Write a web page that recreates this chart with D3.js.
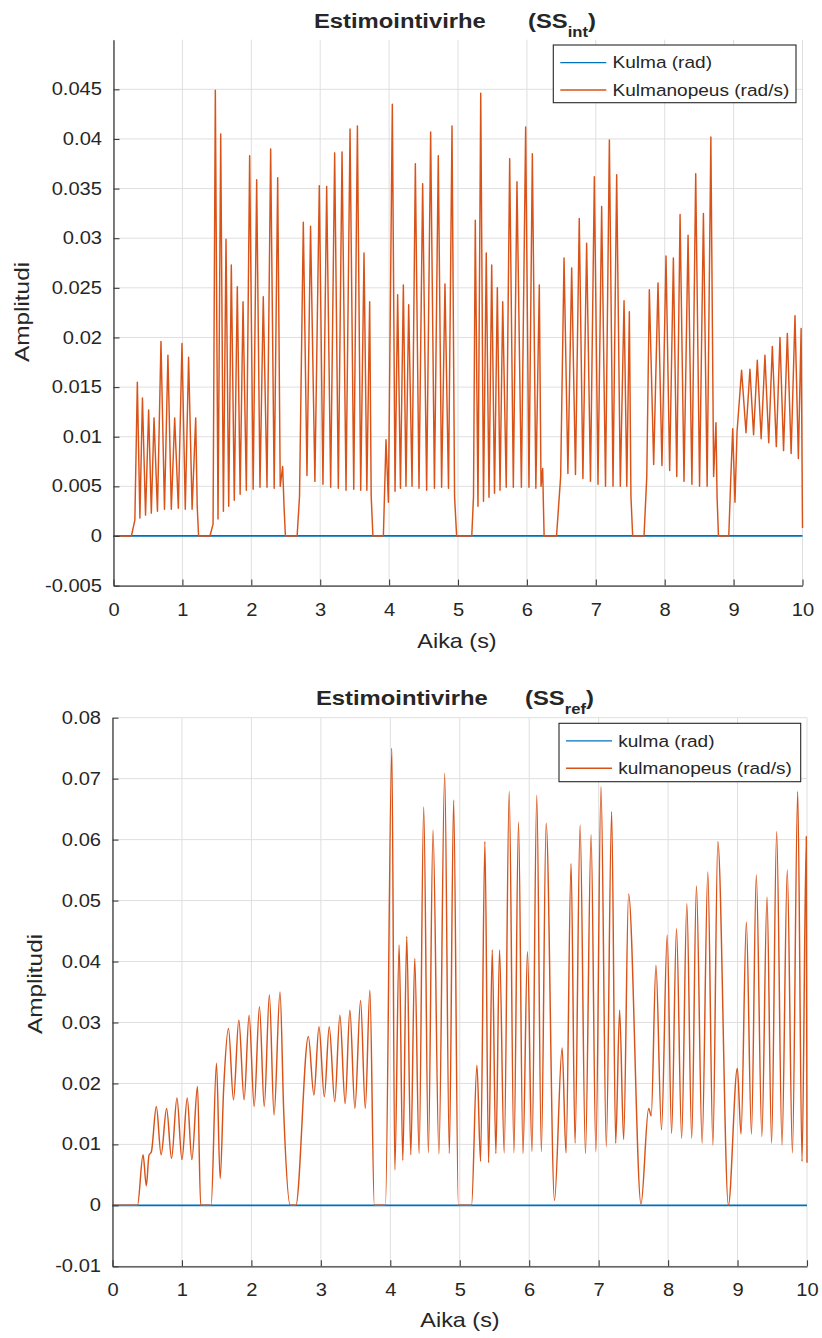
<!DOCTYPE html>
<html>
<head>
<meta charset="utf-8">
<script src="https://cdn.jsdelivr.net/npm/d3@7"></script>
<style>
  body { margin: 0; background: #fff; }
  svg { display: block; }
  text { font-family: "Liberation Sans", Arial, Helvetica, sans-serif; fill: #262626; }
</style>
</head>
<body>
<svg id="fig" width="822" height="1338"></svg>
<script>
// ---- data -------------------------------------------------------------
const timeTicks = [0, 1, 2, 3, 4, 5, 6, 7, 8, 9, 10];
const intTicks = [-0.005, 0, 0.005, 0.01, 0.015, 0.02, 0.025, 0.03, 0.035, 0.04, 0.045];
const refTicks = [-0.01, 0, 0.01, 0.02, 0.03, 0.04, 0.05, 0.06, 0.07, 0.08];

const intLegend = ["Kulma (rad)", "Kulmanopeus (rad/s)"];
const refLegend = ["kulma (rad)", "kulmanopeus (rad/s)"];

// angle estimation error stays at zero over the whole run: [time s, value]
const intAngle = [[0, 0], [10, 0]];
const refAngle = [[0, 0], [10, 0]];

// angular velocity estimation error, SS_int observer: [time s, value]
const intSpeed = [
  [0, 0], [0.26, 0], [0.31, 0.0016], [0.346, 0.0155], [0.383, 0.0018], [0.42, 0.0139], [0.465, 0.0021],
  [0.51, 0.0127], [0.549, 0.0023], [0.588, 0.0119], [0.638, 0.0025], [0.689, 0.0196], [0.74, 0.0027],
  [0.79, 0.0182], [0.839, 0.0027], [0.888, 0.0119], [0.941, 0.0028], [0.994, 0.0194], [1.042, 0.0027],
  [1.09, 0.018], [1.141, 0.0027], [1.193, 0.0119], [1.215, 0.003], [1.235, 0],
  [1.40, 0], [1.445, 0.0012], [1.478, 0.0449], [1.517, 0.0017], [1.556, 0.0405], [1.595, 0.0025],
  [1.633, 0.0299], [1.672, 0.003], [1.71, 0.0273], [1.753, 0.0036], [1.797, 0.0251], [1.838, 0.0042],
  [1.88, 0.0236], [1.928, 0.0046], [1.976, 0.0383], [2.027, 0.0047], [2.078, 0.0359], [2.126, 0.0049],
  [2.174, 0.0241], [2.228, 0.0049], [2.281, 0.039], [2.332, 0.0048], [2.383, 0.0361], [2.42, 0.005],
  [2.455, 0.007], [2.475, 0.003], [2.495, 0],
  [2.665, 0], [2.70, 0.004], [2.755, 0.0316], [2.808, 0.0061], [2.86, 0.0312], [2.923, 0.0055],
  [2.987, 0.0353], [3.04, 0.0052], [3.094, 0.0352], [3.152, 0.0049], [3.21, 0.0386], [3.263, 0.0048],
  [3.317, 0.0387], [3.375, 0.0046], [3.433, 0.041], [3.487, 0.0047], [3.54, 0.0413], [3.588, 0.0046],
  [3.636, 0.0285], [3.677, 0.0046], [3.718, 0.0236], [3.74, 0.004], [3.765, 0],
  [3.917, 0], [3.955, 0.0097], [3.99, 0.0034], [4.047, 0.0435], [4.086, 0.0045], [4.124, 0.0243],
  [4.165, 0.0048], [4.207, 0.0253], [4.245, 0.005], [4.284, 0.0233], [4.333, 0.005], [4.381, 0.0375],
  [4.434, 0.0048], [4.487, 0.0355], [4.545, 0.0046], [4.603, 0.0407], [4.658, 0.0048], [4.714, 0.0383],
  [4.762, 0.0049], [4.811, 0.0254], [4.862, 0.0048], [4.913, 0.0413], [4.95, 0.004], [4.98, 0],
  [5.20, 0], [5.225, 0.004], [5.251, 0.0318], [5.29, 0.003], [5.33, 0.0446], [5.37, 0.0035],
  [5.41, 0.0285], [5.45, 0.0039], [5.489, 0.0273], [5.53, 0.0043], [5.571, 0.025], [5.61, 0.0046],
  [5.649, 0.0236], [5.70, 0.0049], [5.75, 0.038], [5.803, 0.0049], [5.856, 0.0357], [5.92, 0.0049],
  [5.982, 0.0412], [6.03, 0.0049], [6.079, 0.0385], [6.13, 0.0048], [6.18, 0.0253], [6.205, 0.005],
  [6.229, 0.0068], [6.24, 0.003], [6.25, 0],
  [6.43, 0], [6.49, 0.006], [6.539, 0.028], [6.595, 0.0063], [6.65, 0.027], [6.705, 0.0062],
  [6.76, 0.032], [6.813, 0.0058], [6.867, 0.0295], [6.923, 0.0055], [6.979, 0.0362], [7.032, 0.0052],
  [7.085, 0.0332], [7.141, 0.005], [7.197, 0.0399], [7.25, 0.005], [7.303, 0.0364], [7.356, 0.005],
  [7.41, 0.0237], [7.45, 0.005], [7.487, 0.0226], [7.51, 0.004], [7.535, 0],
  [7.70, 0], [7.74, 0.006], [7.777, 0.0248], [7.84, 0.0072], [7.903, 0.0255], [7.96, 0.0071],
  [8.019, 0.0282], [8.072, 0.0066], [8.126, 0.028], [8.175, 0.006], [8.223, 0.0324], [8.28, 0.0055],
  [8.339, 0.0303], [8.395, 0.0052], [8.45, 0.0365], [8.506, 0.005], [8.562, 0.0325], [8.616, 0.005],
  [8.67, 0.0402], [8.71, 0.006], [8.744, 0.0114], [8.76, 0.004], [8.78, 0],
  [8.93, 0], [8.96, 0.006], [8.987, 0.0108], [9.02, 0.0034], [9.05, 0.0105], [9.116, 0.0167],
  [9.18, 0.0104], [9.237, 0.0168], [9.29, 0.0102], [9.344, 0.0177], [9.40, 0.0098], [9.455, 0.0182],
  [9.51, 0.0094], [9.562, 0.0191], [9.62, 0.009], [9.673, 0.02], [9.725, 0.0086], [9.78, 0.0204],
  [9.835, 0.0083], [9.891, 0.0222], [9.94, 0.0078], [9.98, 0.0209], [10, 0.0008]
];

// angular velocity estimation error, SS_ref observer: [time s, value]
const refSpeed = [
  [0, 0], [0.36, 0], [0.44, 0.0083], [0.487, 0.0032], [0.525, 0.0082], [0.56, 0.0088], [0.631, 0.0162],
  [0.70, 0.0083], [0.779, 0.0159], [0.85, 0.0077], [0.928, 0.0176], [1.0, 0.0075], [1.076, 0.0176],
  [1.143, 0.0075], [1.224, 0.0195], [1.27, 0], [1.42, 0],
  [1.497, 0.0233], [1.55, 0.0044], [1.60, 0.019], [1.67, 0.029], [1.742, 0.0173], [1.819, 0.0304],
  [1.895, 0.0173], [1.967, 0.0312], [2.04, 0.0162], [2.116, 0.0326], [2.185, 0.0162], [2.259, 0.0345],
  [2.326, 0.0148], [2.412, 0.035], [2.465, 0.0155], [2.56, 0], [2.64, 0],
  [2.82, 0.0277], [2.90, 0.0181], [2.973, 0.0293], [3.05, 0.0178], [3.121, 0.0293], [3.2, 0.017],
  [3.274, 0.0312], [3.35, 0.0167], [3.418, 0.032], [3.49, 0.0159], [3.572, 0.0336], [3.64, 0.0159],
  [3.706, 0.0353], [3.77, 0], [3.93, 0],
  [4.022, 0.075], [4.065, 0.0058], [4.127, 0.0427], [4.18, 0.0074], [4.237, 0.0441], [4.295, 0.0083],
  [4.352, 0.0405], [4.415, 0.0085], [4.481, 0.0654], [4.548, 0.0086], [4.615, 0.0616], [4.70, 0.0084],
  [4.783, 0.0709], [4.85, 0.0085], [4.912, 0.0665], [4.98, 0], [5.17, 0],
  [5.247, 0.023], [5.30, 0.0072], [5.362, 0.0597], [5.415, 0.007], [5.468, 0.0419], [5.52, 0.0085],
  [5.573, 0.0419], [5.64, 0.0086], [5.712, 0.0679], [5.78, 0.0086], [5.846, 0.0629], [5.91, 0.0085],
  [5.975, 0.0416], [6.04, 0.0088], [6.109, 0.0673], [6.175, 0.0088], [6.244, 0.0627], [6.364, 0.0008],
  [6.474, 0.0258], [6.53, 0.0086], [6.603, 0.0561], [6.66, 0.0102], [6.733, 0.0624], [6.81, 0.0085],
  [6.891, 0.0608], [6.96, 0.0088], [7.034, 0.0687], [7.11, 0.0096], [7.187, 0.0646], [7.245, 0.0102],
  [7.302, 0.032], [7.36, 0.0108], [7.431, 0.0511], [7.61, 0.0002],
  [7.72, 0.0159], [7.757, 0.0147], [7.825, 0.0394], [7.905, 0.0124], [7.987, 0.0443], [8.05, 0.0118],
  [8.121, 0.0454], [8.195, 0.011], [8.27, 0.0495], [8.34, 0.011], [8.408, 0.0524], [8.49, 0.0102],
  [8.572, 0.0547], [8.645, 0.0099], [8.716, 0.0597], [8.868, 0],
  [8.997, 0.0225], [9.05, 0.0117], [9.127, 0.0465], [9.20, 0.0117], [9.27, 0.0542], [9.35, 0.0113],
  [9.424, 0.0506], [9.49, 0.0102], [9.563, 0.0613], [9.64, 0.0099], [9.716, 0.055], [9.79, 0.0086],
  [9.866, 0.0679], [9.928, 0.0072], [9.99, 0.0605], [10, 0.007]
];

// ---- drawing ----------------------------------------------------------
const svg = d3.select("#fig");
const ANGLE_COLOR = "#0072BD";
const SPEED_COLOR = "#D95319";
const INK = "#262626";
const AXIS = "#3c3c3c";
const GRID = "#dfdfdf";

// Widen text horizontally by factor k (keeps the glyph height).
function stretch(sel, k) {
  sel.each(function () {
    const L = this.getComputedTextLength();
    if (L > 0) {
      this.setAttribute("textLength", (L * k).toFixed(2));
      this.setAttribute("lengthAdjust", "spacingAndGlyphs");
    }
  });
}

const panels = [
  {
    angle: intAngle, speed: intSpeed, yTicks: intTicks, yDomain: [-0.005, 0.05],
    sub: "int", legend: intLegend, curve: d3.curveLinear,
    left: 113.5, right: 802.5, top: 39.7, bottom: 585.6,
    titleX: 314, subX: 528, titleY: 28.3,
    ylabelX: 29.3, ylabelY: 312, xlabelX: 457, xlabelY: 648.3,
    box: { x: 553.3, y: 45, w: 242.7, h: 57.7 }
  },
  {
    angle: refAngle, speed: refSpeed, yTicks: refTicks, yDomain: [-0.01, 0.08],
    sub: "ref", legend: refLegend, curve: d3.curveMonotoneX,
    left: 112.5, right: 807, top: 717.7, bottom: 1266.3,
    titleX: 316, subX: 525, titleY: 705,
    ylabelX: 41.5, ylabelY: 984, xlabelX: 460, xlabelY: 1327,
    box: { x: 559, y: 723.3, w: 241.7, h: 58.4 }
  }
];

panels.forEach(p => {
  const g = svg.append("g");
  const x = d3.scaleLinear().domain([0, 10]).range([p.left, p.right]);
  const y = d3.scaleLinear().domain(p.yDomain).range([p.bottom, p.top]);

  // grid
  g.append("g").selectAll("line").data(timeTicks).join("line")
    .attr("x1", d => x(d)).attr("x2", d => x(d))
    .attr("y1", p.top).attr("y2", p.bottom)
    .attr("stroke", GRID).attr("stroke-width", 1);
  g.append("g").selectAll("line").data(p.yTicks).join("line")
    .attr("x1", p.left).attr("x2", p.right)
    .attr("y1", d => y(d)).attr("y2", d => y(d))
    .attr("stroke", GRID).attr("stroke-width", 1);

  // series
  const angleLine = d3.line().x(d => x(d[0])).y(d => y(d[1]));
  const speedLine = d3.line().x(d => x(d[0])).y(d => y(d[1])).curve(p.curve);
  g.append("path").datum(p.angle).attr("d", angleLine)
    .attr("fill", "none").attr("stroke", ANGLE_COLOR).attr("stroke-width", 1.8);
  g.append("path").datum(p.speed).attr("d", speedLine)
    .attr("fill", "none").attr("stroke", SPEED_COLOR).attr("stroke-width", 1.45)
    .attr("stroke-linejoin", "round");

  // axes (ticks pointing inward)
  const xAxis = d3.axisBottom(x).tickValues(timeTicks)
    .tickSizeInner(-6).tickSizeOuter(0).tickPadding(17.5).tickFormat(d => String(d));
  const yAxis = d3.axisLeft(y).tickValues(p.yTicks)
    .tickSizeInner(-6).tickSizeOuter(0).tickPadding(11.5)
    .tickFormat(d => String(+d.toFixed(3)));
  const gx = g.append("g").attr("transform", `translate(0,${p.bottom})`).call(xAxis);
  const gy = g.append("g").attr("transform", `translate(${p.left},0)`).call(yAxis);
  [gx, gy].forEach(a => {
    a.attr("font-family", null).attr("font-size", null);
    a.select(".domain").attr("stroke", AXIS).attr("stroke-width", 1.3);
    a.selectAll(".tick line").attr("stroke", AXIS).attr("stroke-width", 1.1);
    a.selectAll(".tick text").attr("font-size", 17.5).attr("fill", INK);
    stretch(a.selectAll(".tick text"), 1.15);
  });

  // axis labels
  svg.append("text")
    .attr("transform", `translate(${p.xlabelX},${p.xlabelY}) scale(1.17,1)`)
    .attr("text-anchor", "middle").attr("font-size", 20).text("Aika (s)");
  svg.append("text")
    .attr("transform", `translate(${p.ylabelX},${p.ylabelY}) rotate(-90) scale(1.25,1)`)
    .attr("text-anchor", "middle").attr("font-size", 19.5).text("Amplitudi");

  // title
  svg.append("text")
    .attr("transform", `translate(${p.titleX},${p.titleY}) scale(1.19,1)`)
    .attr("font-size", 20).attr("font-weight", "bold").text("Estimointivirhe");
  const t2 = svg.append("text")
    .attr("transform", `translate(${p.subX},${p.titleY}) scale(1.19,1)`)
    .attr("font-size", 20).attr("font-weight", "bold");
  t2.append("tspan").text("(SS");
  t2.append("tspan").attr("font-size", 14).attr("dy", 9).text(p.sub);
  t2.append("tspan").attr("dy", -9).text(")");

  // legend
  const b = p.box;
  const lg = svg.append("g").attr("transform", `translate(${b.x},${b.y})`);
  lg.append("rect").attr("width", b.w).attr("height", b.h)
    .attr("fill", "#fff").attr("stroke", INK).attr("stroke-width", 1.1);
  const rows = [
    { name: p.legend[0], color: ANGLE_COLOR, dy: 17.6 },
    { name: p.legend[1], color: SPEED_COLOR, dy: 45 }
  ];
  rows.forEach(r => {
    lg.append("line").attr("x1", 7).attr("x2", 53).attr("y1", r.dy).attr("y2", r.dy)
      .attr("stroke", r.color).attr("stroke-width", 1.4);
    const t = lg.append("text").attr("x", 59.2).attr("y", r.dy).attr("dy", "0.36em")
      .attr("font-size", 16.3).text(r.name);
    stretch(t, 1.17);
  });
});
</script>
</body>
</html>
